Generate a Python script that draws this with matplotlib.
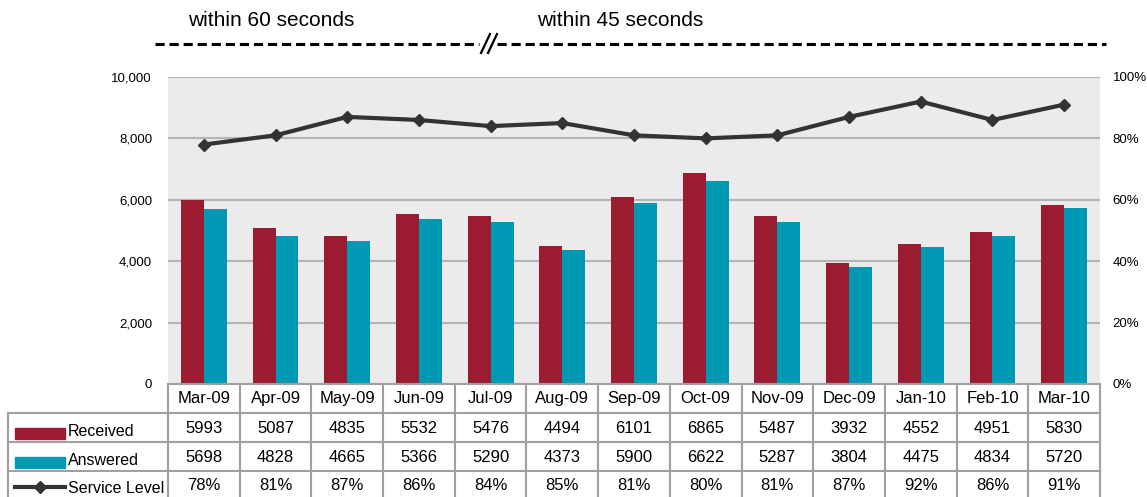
import numpy as np
import matplotlib
matplotlib.use('Agg')
import matplotlib.pyplot as plt
from matplotlib.lines import Line2D
from matplotlib.patches import Rectangle

plt.rcParams['font.family'] = ['Liberation Sans', 'DejaVu Sans']

months = ['Mar-09', 'Apr-09', 'May-09', 'Jun-09', 'Jul-09', 'Aug-09', 'Sep-09',
          'Oct-09', 'Nov-09', 'Dec-09', 'Jan-10', 'Feb-10', 'Mar-10']
received = [5993, 5087, 4835, 5532, 5476, 4494, 6101, 6865, 5487, 3932, 4552, 4951, 5830]
answered = [5698, 4828, 4665, 5366, 5290, 4373, 5900, 6622, 5287, 3804, 4475, 4834, 5720]
service_level = [78, 81, 87, 86, 84, 85, 81, 80, 81, 87, 92, 86, 91]

RED = '#9b1b30'
TEAL = '#0099b4'
LINE = '#333333'
GRID = '#b4b4b4'

W, H = 1147, 497
fig = plt.figure(figsize=(W / 100, H / 100), dpi=100)


def px(x0, y0, x1, y1):
    # pixel box (top-left origin) -> figure fraction rect
    return [x0 / W, 1 - y1 / H, (x1 - x0) / W, (y1 - y0) / H]


# main chart
ax = fig.add_axes(px(168, 77, 1100, 384))
ax.set_facecolor('#ebebeb')
x = np.arange(len(months))
bw = 0.32
ax.bar(x - bw / 2, received, bw, color=RED, zorder=3)
ax.bar(x + bw / 2, answered, bw, color=TEAL, zorder=3)
ax.set_xlim(-0.5, len(months) - 0.5)
ax.set_ylim(0, 10000)
ax.set_yticks(np.arange(0, 10001, 2000))
ax.set_yticklabels(['{:,}'.format(v) for v in range(0, 10001, 2000)], fontsize=9.5)
ax.yaxis.grid(True, color=GRID, lw=1.5, zorder=1)
ax.set_xticks([])
ax.tick_params(axis='y', length=0, pad=11.5)
for s in ax.spines.values():
    s.set_visible(False)

ax2 = ax.twinx()
ax2.plot(x, service_level, color=LINE, lw=3, marker='D', ms=6, zorder=4)
ax2.set_ylim(0, 100)
ax2.set_yticks(np.arange(0, 101, 20))
ax2.set_yticklabels(['{}%'.format(v) for v in range(0, 101, 20)], fontsize=9.5)
ax2.tick_params(axis='y', length=0, pad=9)
for s in ax2.spines.values():
    s.set_visible(False)

# data table under the chart
tax = fig.add_axes(px(8, 384, 1100, 500))
u = 932 / 13
x_left = -0.5 - (168 - 8) / u
tax.set_xlim(x_left, len(months) - 0.5)
tax.set_ylim(4, 0)
tax.axis('off')
tc = '#a0a0a0'
tlw = 1.5
# horizontal rules
tax.plot([-0.5, len(months) - 0.5], [0, 0], color=tc, lw=tlw, clip_on=False)
for r in [1, 2, 3]:
    tax.plot([x_left, len(months) - 0.5], [r, r], color=tc, lw=tlw, clip_on=False)
# vertical rules
tax.plot([x_left, x_left], [1, 4], color=tc, lw=tlw, clip_on=False)
for c in range(len(months) + 1):
    tax.plot([c - 0.5, c - 0.5], [0, 4], color=tc, lw=tlw, clip_on=False)

for i, m in enumerate(months):
    tax.text(i, 0.5, m, ha='center', va='center', fontsize=12)
    tax.text(i, 1.55, str(received[i]), ha='center', va='center', fontsize=12)
    tax.text(i, 2.55, str(answered[i]), ha='center', va='center', fontsize=12)
    tax.text(i, 3.5, '{}%'.format(service_level[i]), ha='center', va='center', fontsize=12)

# row labels with legend keys
sx0 = x_left + 7 / u
sx1 = x_left + 57 / u
tax.add_patch(Rectangle((sx0, 1.5), sx1 - sx0, 0.38, color=RED, clip_on=False))
tax.add_patch(Rectangle((sx0, 2.5), sx1 - sx0, 0.38, color=TEAL, clip_on=False))
tax.plot([sx0, sx1], [3.55, 3.55], color=LINE, lw=3, clip_on=False)
tax.plot([(sx0 + sx1) / 2], [3.55], color=LINE, marker='D', ms=6, clip_on=False)
lx = x_left + 60 / u
tax.text(lx, 1.65, 'Received', ha='left', va='center', fontsize=11.5)
tax.text(lx, 2.65, 'Answered', ha='left', va='center', fontsize=11.5)
tax.text(lx, 3.6, 'Service Level', ha='left', va='center', fontsize=11.5)

# target annotation above the chart
fig.text(188 / W, 1 - 20 / H, 'within 60 seconds', ha='left', va='center', fontsize=15)
fig.text(537 / W, 1 - 20 / H, 'within 45 seconds', ha='left', va='center', fontsize=15)
yd = 1 - 44 / H
fig.add_artist(Line2D([155 / W, 479 / W], [yd, yd], color='black', lw=2.2,
                      linestyle=(0, (3, 1.6))))
fig.add_artist(Line2D([497 / W, 1106 / W], [yd, yd], color='black', lw=2.2,
                      linestyle=(0, (3, 1.6))))
for sx in [481, 488]:
    fig.add_artist(Line2D([sx / W, (sx + 9) / W], [1 - 53 / H, 1 - 34 / H],
                          color='black', lw=1.6))

fig.savefig('out.png', dpi=100)
